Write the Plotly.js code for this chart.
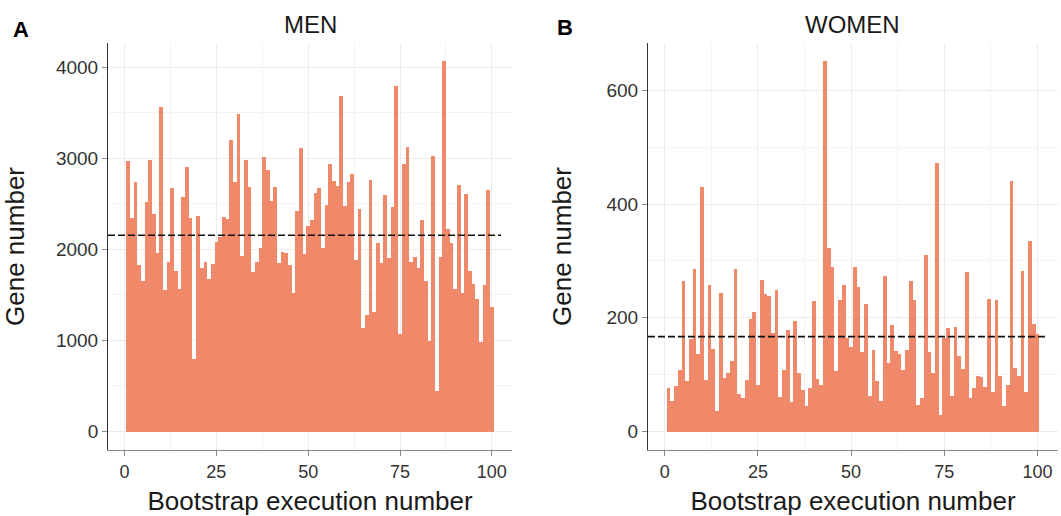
<!DOCTYPE html>
<html>
<head>
<meta charset="utf-8">
<script src="https://cdn.plot.ly/plotly-3.0.1.min.js"></script>
<style>html,body{margin:0;padding:0;background:#fff;}#chart{width:1061px;height:516px;}</style>
</head>
<body>
<div id="chart"></div>
<script>
// Bootstrap execution numbers 1..100
const runs = [];
for (let i = 1; i <= 100; i++) runs.push(i);

// MEN: gene number per bootstrap execution
const menGenes = [
  2966, 2342, 2736, 1826, 1655, 2517, 2977, 2385, 1962, 3558,
  1556, 1859, 2670, 1764, 1567, 2572, 2900, 2342, 796, 2363,
  1794, 1859, 1673, 1837, 2079, 2137, 2353, 2331, 3196, 2736,
  3481, 1925, 2977, 2681, 1753, 1859, 2013, 3010, 2868, 2528,
  2681, 1848, 1969, 1958, 1826, 1520, 2418, 3109, 1947, 2254,
  2320, 2616, 2670, 2013, 2484, 2933, 2747, 2692, 3679, 2473,
  2736, 2824, 1881, 2440, 1136, 1279, 2758, 1311, 2068, 1848,
  2594, 1903, 2462, 3788, 1070, 2933, 3120, 1859, 1914, 1794,
  2320, 1651, 994, 3021, 446, 1914, 4062, 2221, 2068, 1563,
  2703, 1520, 2605, 1761, 1618, 1454, 983, 1607, 2648, 1366
];

// WOMEN: gene number per bootstrap execution
const womenGenes = [
  77, 54, 80, 108, 265, 89, 163, 286, 136, 430,
  91, 258, 145, 36, 243, 94, 103, 124, 286, 66,
  59, 91, 198, 210, 82, 266, 242, 238, 173, 249,
  61, 108, 179, 52, 194, 103, 73, 45, 77, 229,
  92, 82, 651, 322, 289, 107, 231, 258, 164, 149,
  289, 254, 140, 224, 63, 143, 89, 54, 273, 121,
  187, 142, 136, 108, 143, 265, 231, 47, 59, 310,
  140, 103, 472, 29, 164, 182, 63, 184, 133, 110,
  280, 59, 77, 98, 96, 78, 233, 70, 231, 98,
  45, 82, 440, 112, 98, 282, 70, 335, 189, 171
];

// Mean lines (dashed)
const meanMen = 2155;
const meanWomen = 167;

// Tick labels
const xTicks = [0, 25, 50, 75, 100];
const yTicksMen = [0, 1000, 2000, 3000, 4000];
const yTicksWomen = [0, 200, 400, 600];

const barColor = '#F0886A';
const FONT = 'Liberation Sans, Arial, Helvetica, sans-serif';

const traces = [
  {type: 'bar', x: runs, y: menGenes, xaxis: 'x', yaxis: 'y',
   marker: {color: barColor, line: {width: 0}}, width: 1, hoverinfo: 'x+y', showlegend: false},
  {type: 'bar', x: runs, y: womenGenes, xaxis: 'x2', yaxis: 'y2',
   marker: {color: barColor, line: {width: 0}}, width: 1, hoverinfo: 'x+y', showlegend: false}
];

function xAxis(domain, anchor) {
  return {
    domain: domain, anchor: anchor, range: [-4.5, 105.5],
    tickmode: 'array', tickvals: xTicks, ticktext: xTicks.map(String),
    ticks: 'outside', ticklen: 5, tickcolor: '#8a8a8a', tickwidth: 1,
    showline: true, linecolor: '#8a8a8a', linewidth: 1,
    showgrid: true, gridcolor: '#ebebeb', gridwidth: 1, zeroline: false,
    minor: {dtick: 12.5, tick0: 0, showgrid: true, gridcolor: '#f3f3f3', gridwidth: 1, ticks: ''},
    tickfont: {family: FONT, size: 18, color: '#333'},
    title: {text: 'Bootstrap execution number', font: {family: FONT, size: 26, color: '#1a1a1a'}, standoff: 13},
    automargin: false, fixedrange: true
  };
}

function yAxis(range, ticks, minorStep, anchor, standoff) {
  return {
    domain: [0.1279, 0.9167], anchor: anchor, range: range,
    tickmode: 'array', tickvals: ticks, ticktext: ticks.map(String),
    ticks: 'outside', ticklen: 5, tickcolor: '#8a8a8a', tickwidth: 1,
    showline: true, linecolor: '#333', linewidth: 1,
    showgrid: true, gridcolor: '#ebebeb', gridwidth: 1, zeroline: false,
    minor: {dtick: minorStep, tick0: 0, showgrid: true, gridcolor: '#f3f3f3', gridwidth: 1, ticks: ''},
    tickfont: {family: FONT, size: 19, color: '#333'},
    title: {text: 'Gene number', font: {family: FONT, size: 26, color: '#1a1a1a'}, standoff: standoff},
    automargin: false, fixedrange: true
  };
}

const layout = {
  width: 1061, height: 516,
  margin: {l: 0, r: 0, t: 0, b: 0},
  paper_bgcolor: '#ffffff', plot_bgcolor: '#ffffff',
  bargap: 0, showlegend: false,
  font: {family: FONT, color: '#1a1a1a'},
  xaxis: xAxis([0.1018, 0.4826], 'y'),
  yaxis: yAxis([-203, 4265], yTicksMen, 500, 'x', 23),
  xaxis2: xAxis([0.6107, 0.9972], 'y2'),
  yaxis2: yAxis([-32.5, 683.5], yTicksWomen, 100, 'x2', 27),
  shapes: [
    {type: 'line', xref: 'x', yref: 'y', x0: -4.5, x1: 102.5, y0: meanMen, y1: meanMen,
     line: {color: '#111', width: 1.6, dash: '7px,3px'}},
    {type: 'line', xref: 'x2', yref: 'y2', x0: -4.5, x1: 102.5, y0: meanWomen, y1: meanWomen,
     line: {color: '#111', width: 1.6, dash: '7px,3px'}}
  ],
  annotations: [
    {text: 'MEN', xref: 'x domain', yref: 'paper', x: 0.5, y: 1 - 25/516, xanchor: 'center', yanchor: 'middle',
     showarrow: false, font: {family: FONT, size: 24, color: '#1a1a1a'}},
    {text: 'WOMEN', xref: 'x2 domain', yref: 'paper', x: 0.5, y: 1 - 25/516, xanchor: 'center', yanchor: 'middle',
     showarrow: false, font: {family: FONT, size: 24, color: '#1a1a1a'}},
    {text: '<b>A</b>', xref: 'paper', yref: 'paper', x: 11/1061, y: 1 - 30/516, xanchor: 'left', yanchor: 'middle',
     showarrow: false, font: {family: FONT, size: 22, color: '#000'}},
    {text: '<b>B</b>', xref: 'paper', yref: 'paper', x: 555/1061, y: 1 - 28/516, xanchor: 'left', yanchor: 'middle',
     showarrow: false, font: {family: FONT, size: 22, color: '#000'}}
  ]
};

Plotly.newPlot('chart', traces, layout, {displayModeBar: false, staticPlot: true});
</script>
</body>
</html>
